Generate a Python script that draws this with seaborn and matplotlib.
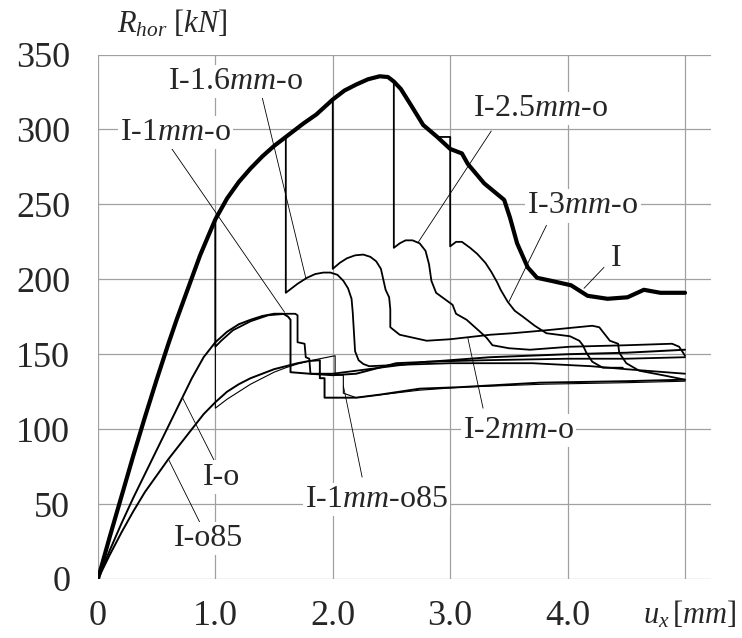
import pandas as pd
import matplotlib
matplotlib.use("Agg")
import matplotlib.pyplot as plt
import seaborn as sns

# --- curve data: u_x [mm] vs R_hor [kN] ---
i_u = [0, 0.1, 0.2, 0.3, 0.4, 0.5, 0.6, 0.67, 0.8, 0.87, 0.94, 1.0, 1.1,
       1.2, 1.3, 1.4, 1.5, 1.6, 1.75, 1.86, 2.0, 2.1, 2.2, 2.3, 2.4, 2.47,
       2.52, 2.58, 2.66, 2.77, 2.89, 3.0, 3.1, 3.15, 3.29, 3.46, 3.51, 3.57,
       3.66, 3.74, 3.86, 4.03, 4.17, 4.34, 4.51, 4.65, 4.79, 5.0]
i_r = [0, 28, 55, 82, 108, 133, 157, 173, 201, 216, 229, 240, 254,
       265, 274, 282, 289, 295, 304, 310, 320, 326, 330, 333.5, 335.5, 335,
       332, 327, 317, 303, 295, 287, 284, 277, 264, 253, 241, 224,
       208, 201, 199, 196, 189, 187, 188, 193, 191, 191]

io_u = [0, 0.1, 0.2, 0.3, 0.4, 0.5, 0.6, 0.7, 0.8, 0.9, 1.0, 1.1, 1.2, 1.3,
        1.4, 1.5, 1.58, 1.62, 1.64, 1.64, 1.8, 2.0, 2.2, 2.54, 2.83, 3.34,
        4.0, 4.5, 5.0]
io_r = [0, 19, 37, 54, 70, 86, 102, 118, 134, 148, 158, 165, 170, 173,
        175.5, 177, 177, 175, 173, 138, 137, 136, 137, 144, 145, 148,
        150, 151, 153]

io85_u = [0, 0.1, 0.2, 0.3, 0.4, 0.5, 0.6, 0.7, 0.8, 0.9, 1.0, 1.1, 1.2,
          1.3, 1.4, 1.5, 1.6, 1.7, 1.8, 1.89, 1.89, 1.93, 1.93, 2.2, 2.4,
          2.74, 3.08, 3.76, 4.5, 5.0]
io85_r = [0, 16, 31, 45, 58, 69, 80, 90, 100, 110, 118, 125, 130,
          134, 137, 140, 142, 144, 145.5, 146, 134, 134, 121, 121, 123,
          127, 128, 131, 132, 133]

i1o_u = [1.0, 1.0, 1.05, 1.15, 1.3, 1.45, 1.6, 1.68, 1.70, 1.70, 1.76, 1.77,
         1.80, 1.81, 2.0, 2.2, 2.5, 2.8, 3.3, 4.0, 4.5, 5.0]
i1o_r = [240, 155, 159, 166, 172, 176, 177, 177, 176, 158, 157, 148,
         147, 137, 137, 139, 142, 145, 146, 147, 147, 148]

i1o85_u = [1.0, 1.0, 1.1, 1.2, 1.3, 1.4, 1.5, 1.6, 1.7, 1.8, 1.89, 2.02,
           2.02, 2.09, 2.09, 2.2, 2.3, 2.74, 3.1, 3.8, 4.5, 5.0]
i1o85_r = [240, 114, 120, 125, 130, 134, 138, 141, 143.5, 145.5, 147, 149,
           136, 136, 124, 121, 122, 126, 128, 130, 131, 132]

i16o_u = [1.6, 1.6, 1.65, 1.7, 1.78, 1.85, 1.92, 1.98, 2.04, 2.09, 2.13,
          2.16, 2.17, 2.18, 2.19, 2.22, 2.26, 2.31, 2.6, 3.0, 3.7, 4.2,
          4.5, 5.0]
i16o_r = [295, 191, 194, 197, 201, 203.5, 204.5, 204.5, 203, 199, 194,
          187, 178, 165, 152, 146, 143.5, 142, 143, 144, 144, 142,
          140, 137]

i2o_u = [2.0, 2.0, 2.06, 2.12, 2.19, 2.26, 2.32, 2.37, 2.41, 2.43, 2.45,
         2.48, 2.49, 2.49, 2.57, 2.8, 3.0, 3.34, 3.53, 3.82, 4.21, 4.27,
         4.36, 4.43, 4.44, 4.5, 4.61, 4.81, 5.0]
i2o_r = [320, 207, 211, 214, 216, 216.5, 215, 212, 207, 200, 193,
         188, 180, 168, 163, 159, 160, 163, 164, 166, 169, 168,
         159, 157, 151, 144, 139, 136, 133]

i25o_u = [2.52, 2.52, 2.57, 2.62, 2.68, 2.74, 2.79, 2.82, 2.84, 2.88, 2.95,
          3.02, 3.05, 3.14, 3.24, 3.31, 3.36, 3.5, 3.68, 4.02, 4.5, 4.89,
          4.95, 5.0]
i25o_r = [332, 221, 224, 226, 226, 224, 219, 210, 199, 191, 187,
          183, 177, 173, 166, 161, 156, 154, 153, 155, 156, 157,
          155, 149]

i3o_u = [2.89, 3.0, 3.0, 3.05, 3.1, 3.17, 3.23, 3.3, 3.35, 3.4, 3.43, 3.49,
         3.55, 3.62, 3.72, 3.82, 3.92, 4.02, 4.1, 4.13, 4.16, 4.21, 4.3,
         4.47]
i3o_r = [295, 295, 222, 225, 225, 221, 217, 211, 205, 198, 193, 185,
         179, 175, 169, 164, 163, 162, 159, 156, 151, 145, 141,
         141]

curves = {
    "I": (i_u, i_r, 3.0),
    "I-o": (io_u, io_r, 1.4),
    "I-o85": (io85_u, io85_r, 1.4),
    "I-1mm-o": (i1o_u, i1o_r, 1.3),
    "I-1mm-o85": (i1o85_u, i1o85_r, 0.8),
    "I-1.6mm-o": (i16o_u, i16o_r, 1.3),
    "I-2mm-o": (i2o_u, i2o_r, 1.3),
    "I-2.5mm-o": (i25o_u, i25o_r, 1.3),
    "I-3mm-o": (i3o_u, i3o_r, 1.3),
}

# labels: text, text position, leader start, leader end (curve point)
label_texts = [r"I-1.6$mm$-o", r"I-1$mm$-o", r"I-2.5$mm$-o", r"I-3$mm$-o",
               "I", "I-o", "I-o85", r"I-1$mm$-o85", r"I-2$mm$-o"]
label_pos = [(1.17, 332), (0.66, 298), (3.77, 314), (4.13, 249),
             (4.41, 214), (1.05, 68), (0.945, 27), (2.37, 53), (3.58, 99)]
leader_from = [(1.40, 321), (0.63, 287), (3.35, 299), (3.82, 236),
               (4.31, 208), (1.01, 76), (0.885, 35), (2.25, 68), (3.28, 114)]
leader_to = [(1.77, 201), (1.59, 178), (2.73, 225), (3.50, 185),
             (4.14, 194), (0.72, 121), (0.60, 80), (2.09, 129), (3.15, 161)]

x_ticks = [0, 1, 2, 3, 4, 5]
x_ticklabels = ["0", "1.0", "2.0", "3.0", "4.0", ""]
y_ticks = [0, 50, 100, 150, 200, 250, 300, 350]

sns.set_style("whitegrid")
plt.rcParams["font.family"] = ["Liberation Serif", "DejaVu Serif"]
plt.rcParams["mathtext.fontset"] = "custom"
plt.rcParams["mathtext.rm"] = "Liberation Serif"
plt.rcParams["mathtext.it"] = "Liberation Serif:italic"

fig = plt.figure(figsize=(7.42, 6.38), dpi=100)
ax = fig.add_axes([0.132, 0.0925, 0.826, 0.822])

for name, (u, r, lw) in curves.items():
    df = pd.DataFrame({"u": u, "R": r})
    sns.lineplot(data=df, x="u", y="R", sort=False, estimator=None,
                 color="black", linewidth=lw, ax=ax, zorder=3)

# thin leader lines from the labels to their curves
for (x0, y0), (x1, y1) in zip(leader_from, leader_to):
    ax.plot([x0, x1], [y0, y1], color="black", lw=0.6, zorder=4)

for txt, (tx, ty) in zip(label_texts, label_pos):
    ax.text(tx, ty, txt, fontsize=23, ha="center", va="center", zorder=5,
            bbox=dict(facecolor="white", edgecolor="none", pad=1.5))

ax.set_xlim(0, 5.22)
ax.set_ylim(0, 350)
ax.set_xticks(x_ticks)
ax.set_xticklabels(x_ticklabels)
ax.set_yticks(y_ticks)
ax.tick_params(axis="both", length=0, labelsize=26)
ax.tick_params(axis="x", pad=15)
ax.tick_params(axis="y", pad=20)
ax.grid(True, color="#a0a0a0", lw=0.9)
ax.set_axisbelow(True)
for s in ax.spines.values():
    s.set_visible(False)
ax.set_xlabel("")
ax.set_ylabel("")

fig.text(0.232, 0.962, r"$R_{hor}\ [kN]$", fontsize=22, ha="center", va="center")
fig.text(0.929, 0.036, r"$u_x\,[mm]$", fontsize=22, ha="center", va="center")

fig.savefig("out.png", dpi=100)
